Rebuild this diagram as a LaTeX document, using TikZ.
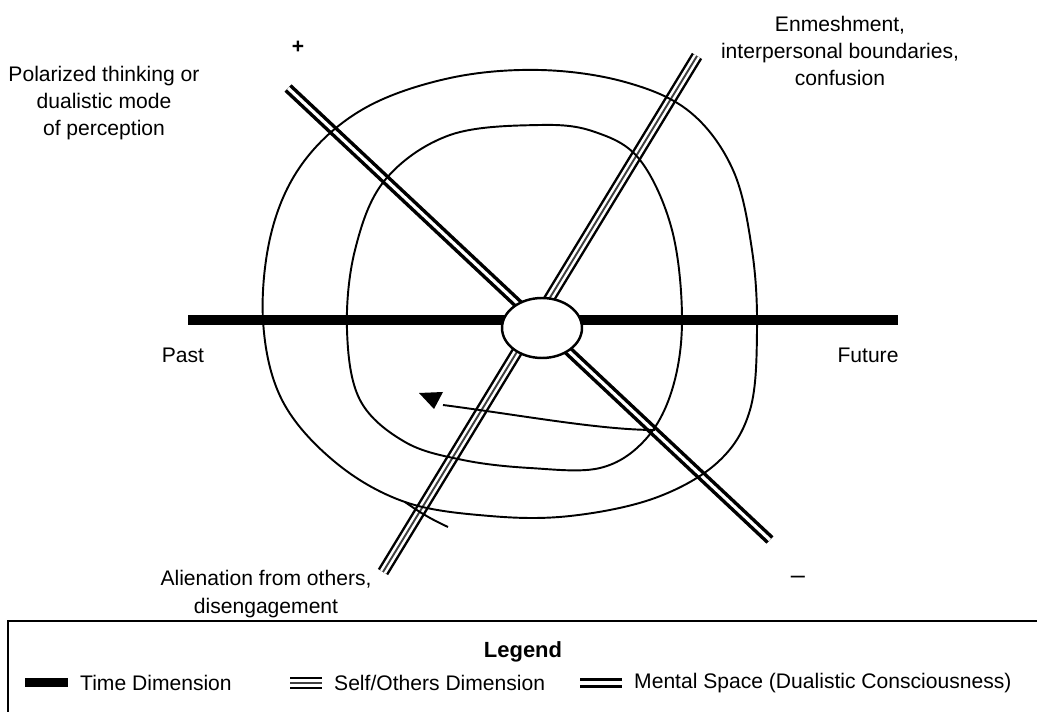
\documentclass[tikz,border=0pt]{standalone}
\usepackage{fontspec}
\setmainfont{Liberation Sans}
\usetikzlibrary{shapes.geometric}
\tikzset{
  timedim/.style={line width=5.9pt},
  selfdim/.style={line width=6.8pt,postaction={draw,white,line width=4pt},postaction={draw,black!75,line width=1.1pt}},
  mentaldim/.style={double,line width=2pt,double distance=1.8pt},
  space/.style={line width=1.1pt},
  lbl/.style={align=center,font=\fontsize{12}{15.5}\selectfont}
}
\begin{document}
\begin{tikzpicture}[x=0.02cm,y=-0.02cm]
\useasboundingbox (0,0) rectangle (1037,712);
% dimensions
\coordinate (pastend) at (188,320);
\coordinate (futureend) at (898,320);
\coordinate (plusend) at (288,88);
\coordinate (minusend) at (770,540);
\coordinate (othersend) at (383,572);
\coordinate (enmeshend) at (697,56);
\draw[timedim] (pastend) -- (futureend);
\draw[mentaldim] (plusend) -- (minusend);
\draw[selfdim] (othersend) -- (enmeshend);
% mental space
\draw[space] plot[smooth cycle,tension=0.6] coordinates {(405,502) (335,462) (282,400) (263,320) (272,230) (305,160) (365,108) (450,78) (540,70) (625,82) (690,112) (733,170) (752,250) (757,330) (750,410) (718,462) (655,498) (570,516) (490,516)};
\draw[space] (405,502) to[bend right=5] (448,527);
\draw[space] plot[smooth cycle,tension=0.6] coordinates {(540,125) (450,135) (385,180) (355,250) (347,330) (360,400) (405,442) (463,460) (530,468) (600,468) (645,440) (672,390) (682,320) (672,230) (640,160) (595,132)};
\draw[space] (443,405) .. controls (520,415) and (600,430) .. (655,430);
\fill (419,393) -- (443,392) -- (434,409) -- cycle;
\node[ellipse,draw,fill=white,line width=1.4pt,minimum width=1.6cm,minimum height=1.2cm] (self) at (542,328) {};
% labels
\node[lbl,font=\bfseries\large] (plus) at (298,47) {+};
\node[lbl,font=\Large] (minus) at (798,580) {--};
\node[lbl] (polar) at (104,103) {Polarized thinking or\\dualistic mode\\of perception};
\node[lbl] (enmesh) at (840,51) {Enmeshment,\\interpersonal boundaries,\\confusion};
\node[lbl] (alien) at (266,594) {Alienation from others,\\disengagement};
\node[lbl] (past) at (183,355) {Past};
\node[lbl] (future) at (868,355) {Future};
% legend
\draw[line width=1.1pt] (8,712) -- (8,621) -- (1037,621);
\node[lbl,font=\fontsize{12.5}{15}\selectfont\bfseries] (legend) at (523,652) {Legend};
\fill (25,678) rectangle (68,687);
\node[lbl,anchor=west] (timelbl) at (74,683) {Time Dimension};
\draw[selfdim] (290,683) -- (322,683);
\node[lbl,anchor=west] (selflbl) at (328,683) {Self/Others Dimension};
\draw[mentaldim] (580,683) -- (622,683);
\node[lbl,anchor=west] (mentallbl) at (628,683) {Mental Space (Dualistic Consciousness)};
\end{tikzpicture}
\end{document}
